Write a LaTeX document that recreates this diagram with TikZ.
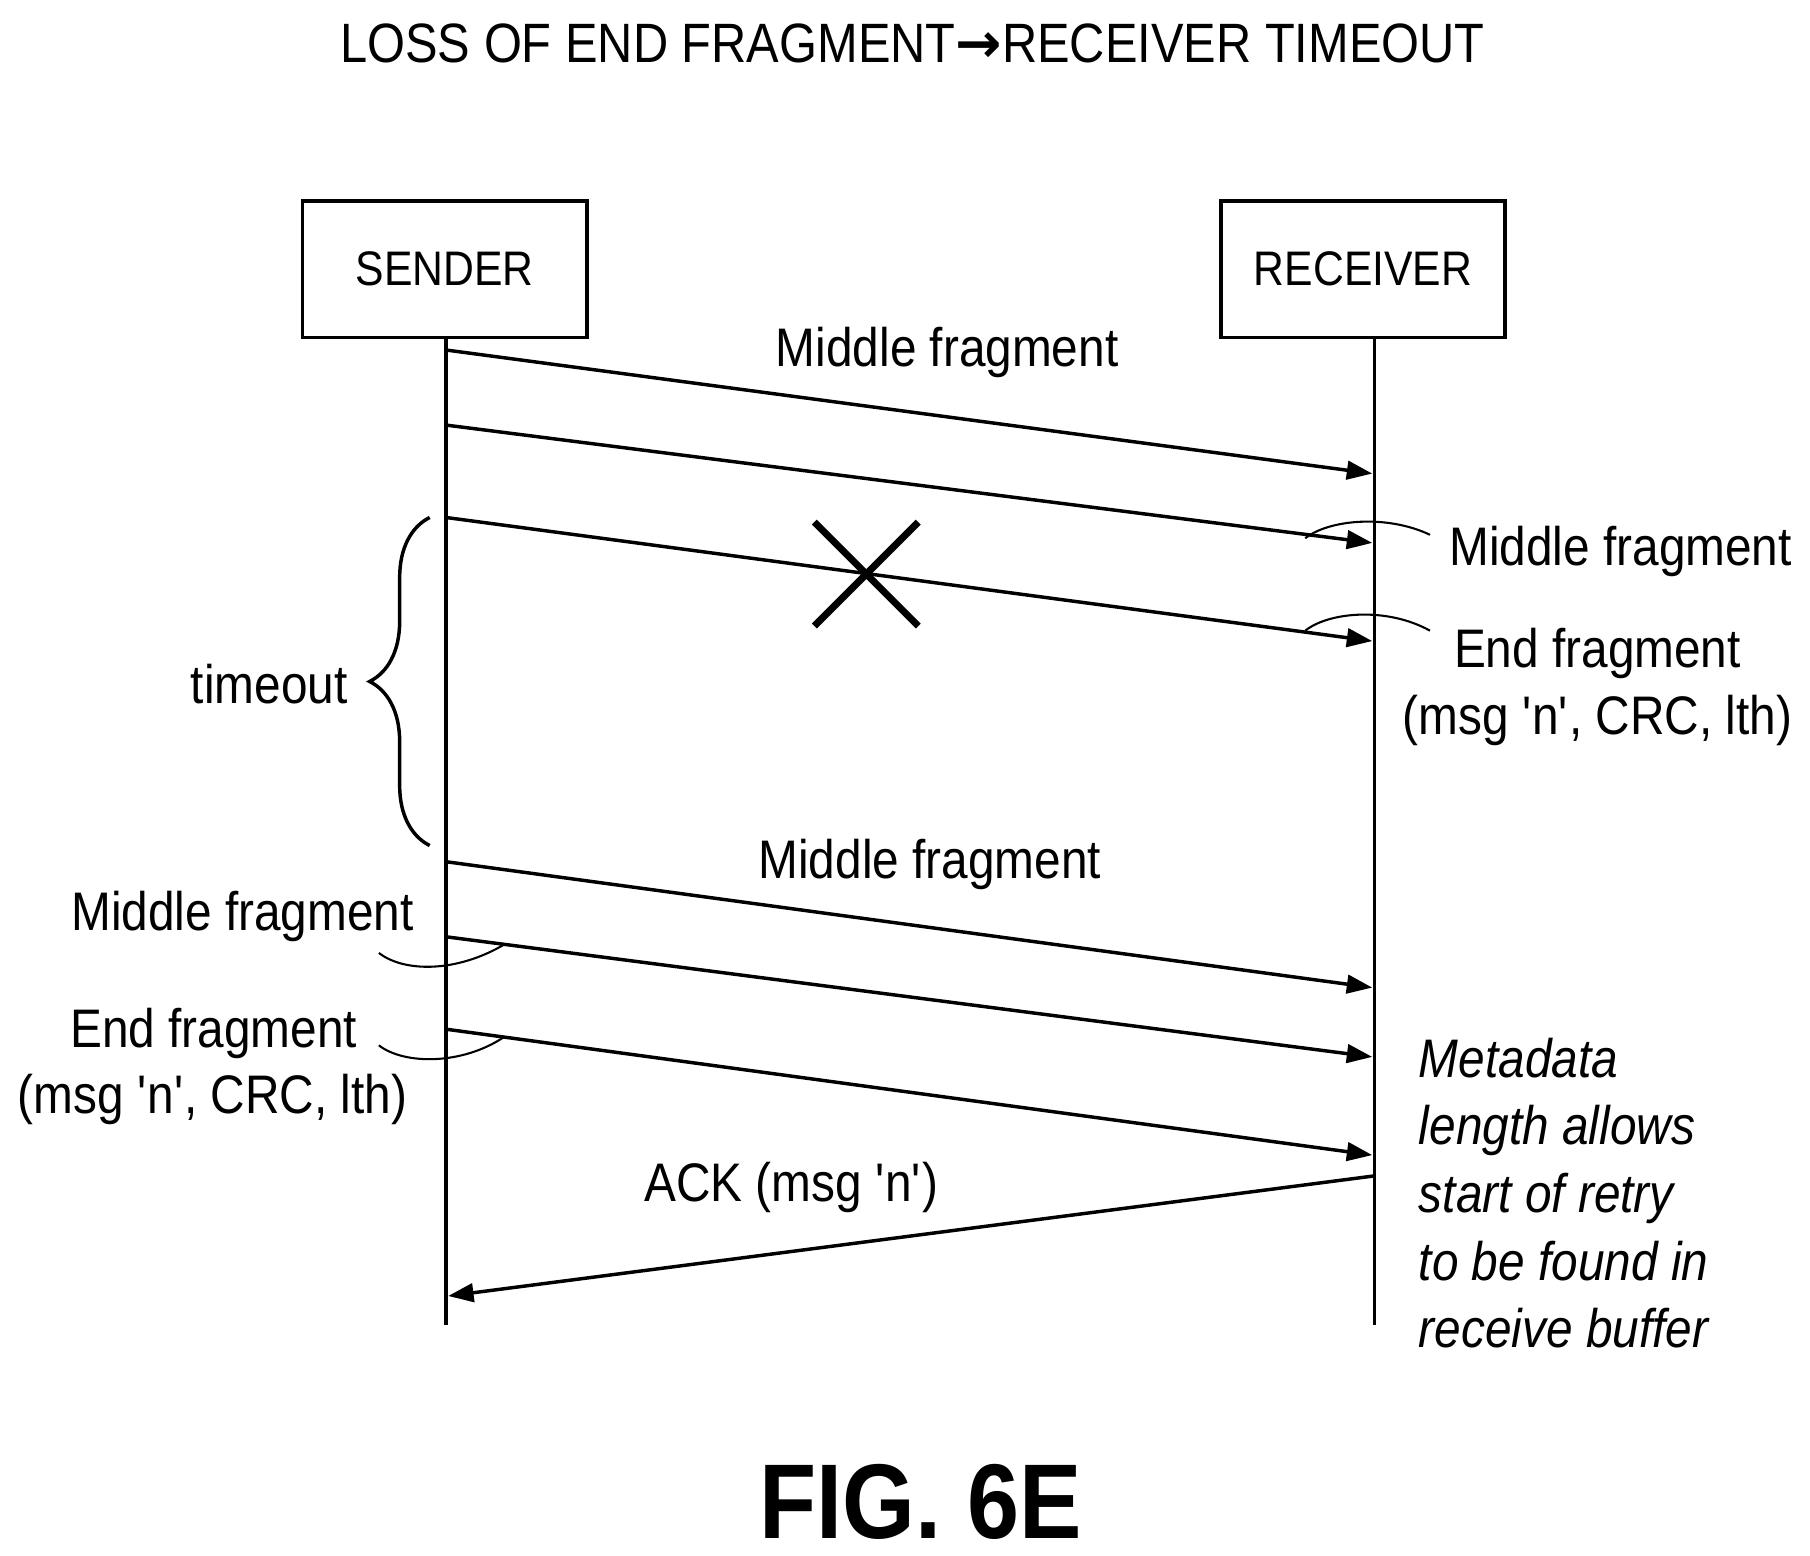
\documentclass[tikz,border=0pt]{standalone}
\usepackage{fontspec}
\setmainfont{Liberation Sans}[FakeStretch=0.88]
\newfontfamily\arrowfont{DejaVu Sans}
\usetikzlibrary{arrows.meta,decorations.pathreplacing}
\newcommand{\q}{\textquotesingle}
\begin{document}
\begin{tikzpicture}[x=0.5pt,y=-0.5pt,
  lbl/.style={font=\fontsize{23.5}{28}\selectfont,inner sep=0},
  box/.style={draw,line width=1.5pt,minimum width=123pt,minimum height=59pt,font=\fontsize{21}{25}\selectfont},
  life/.style={line width=1.5pt},
  msg/.style={line width=1.5pt,-{Triangle[length=11pt,width=8pt]}},
  lead/.style={line width=0.9pt}]
\useasboundingbox (0,0) rectangle (1567,1347);
\node[lbl,font=\fontsize{24}{28}\selectfont] (title) at (790,38) {LOSS OF END FRAGMENT{\arrowfont\bfseries →}RECEIVER TIMEOUT};
\node[box] (snd) at (385,233) {SENDER};
\node[box] (rcv) at (1180,233) {RECEIVER};
\coordinate (sb) at (386,1147);
\coordinate (rb) at (1190,1147);
\draw[life] (386,292) -- (sb);
\draw[life] (1190,292) -- (rb);
% messages
\coordinate (s1) at (386,303); \coordinate (r1) at (1188,410);
\coordinate (s2) at (386,368); \coordinate (r2) at (1188,470);
\coordinate (s3) at (386,448); \coordinate (r3) at (1188,555);
\coordinate (s4) at (386,746); \coordinate (r4) at (1188,855);
\coordinate (s5) at (386,811); \coordinate (r5) at (1188,915);
\coordinate (s6) at (386,891); \coordinate (r6) at (1188,1000);
\coordinate (r7) at (1190,1018); \coordinate (s7) at (388,1122);
\draw[msg] (s1) -- (r1);
\draw[msg] (s2) -- (r2);
\draw[msg] (s3) -- (r3);
\draw[msg] (s4) -- (r4);
\draw[msg] (s5) -- (r5);
\draw[msg] (s6) -- (r6);
\draw[msg] (r7) -- (s7);
% cross
\draw[line width=3pt] (705,452) -- (795,542) (795,452) -- (705,542);
% labels
\node[lbl] (m1) at (820,305) {Middle fragment};
\node[lbl] (m2) at (1403,477) {Middle fragment};
\node[lbl] (e1) at (1383,566) {End fragment};
\node[lbl] (e1b) at (1383,624) {(msg \q n\q, CRC, lth)};
\node[lbl] (m4) at (805,748) {Middle fragment};
\node[lbl] (m5) at (210,793) {Middle fragment};
\node[lbl] (e2) at (185,895) {End fragment};
\node[lbl] (e2b) at (184,952) {(msg \q n\q, CRC, lth)};
\node[lbl] (ack) at (685,1028) {ACK (msg \q n\q)};
\node[lbl] (to) at (233,592) {timeout};
\node[lbl,font=\fontsize{23.5}{29.3}\selectfont\itshape,align=left,anchor=north west] (meta) at (1228,898)
  {Metadata\\length allows\\start of retry\\to be found in\\receive buffer};
\node[font=\fontsize{46}{52}\selectfont\bfseries,inner sep=0] (fig) at (797,1300) {FIG. 6E};
% leaders
\draw[lead] (1130,466) .. controls (1150,450) and (1200,445) .. (1238,463);
\draw[lead] (1130,546) .. controls (1150,530) and (1200,525) .. (1238,546);
\draw[lead] (328,825) .. controls (350,842) and (395,842) .. (436,818);
\draw[lead] (328,905) .. controls (350,922) and (400,922) .. (436,898);
% brace
\draw[line width=1.5pt,decorate,decoration={brace,amplitude=26pt,aspect=0.5}] (372,732) -- (372,448);
\end{tikzpicture}
\end{document}
